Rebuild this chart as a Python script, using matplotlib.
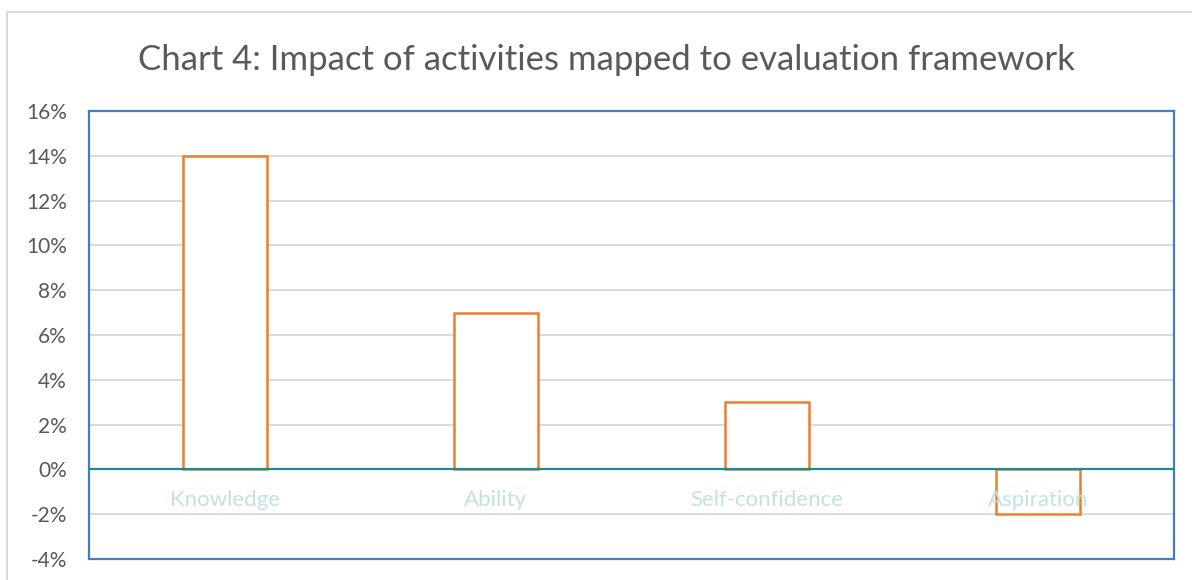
import matplotlib.pyplot as plt
import matplotlib.patches as patches
import numpy as np

# data
categories = ["Knowledge", "Ability", "Self-confidence", "Aspiration"]
impact = [14, 7, 3, -2]
yticks = [-4, -2, 0, 2, 4, 6, 8, 10, 12, 14, 16]

W, H = 1192, 580
fig = plt.figure(figsize=(W / 100, H / 100), dpi=100)
plt.rcParams['font.family'] = ['Lato', 'DejaVu Sans']

# outer chart border (runs off the right and bottom edges)
fig.patches.append(patches.Rectangle((7 / W, -0.2), 1.2, 1.2 - 12 / H, transform=fig.transFigure,
                                     fill=False, edgecolor='#d9d9d9', linewidth=1.5))

# plot area in pixels: left 89, top 111, right 1174, bottom 559
ax = fig.add_axes([89 / W, 1 - 559 / H, (1174 - 89) / W, (559 - 111) / H])

x = np.arange(len(categories))
ax.bar(x, impact, width=0.31, facecolor='white', edgecolor='#ed7d31', linewidth=1.8, zorder=3)

ax.set_xlim(-0.5, len(categories) - 0.5)
ax.set_ylim(-4, 16)
ax.set_yticks(yticks)
ax.set_yticklabels([f"{v}%" for v in yticks], fontsize=15, color='#595959')
ax.tick_params(axis='y', length=0, pad=16)
ax.set_xticks([])
ax.grid(axis='y', color='#d9d9d9', linewidth=1.3, zorder=0)
ax.axhline(0, color='#1f8a8a', linewidth=1.6, zorder=4)

# category names sit inside the plot, just under the zero line
for i, c in enumerate(categories):
    ax.text(i, -1.38, c, ha='center', va='center', fontsize=16, color='#c2e2e2', zorder=5)

for s in ax.spines.values():
    s.set_color('#3f7fc6')
    s.set_linewidth(1.6)

fig.text(606 / W, 1 - 60 / H, "Chart 4: Impact of activities mapped to evaluation framework",
         ha='center', va='center', fontsize=25, color='#595959')

fig.savefig('out.png', dpi=100)
